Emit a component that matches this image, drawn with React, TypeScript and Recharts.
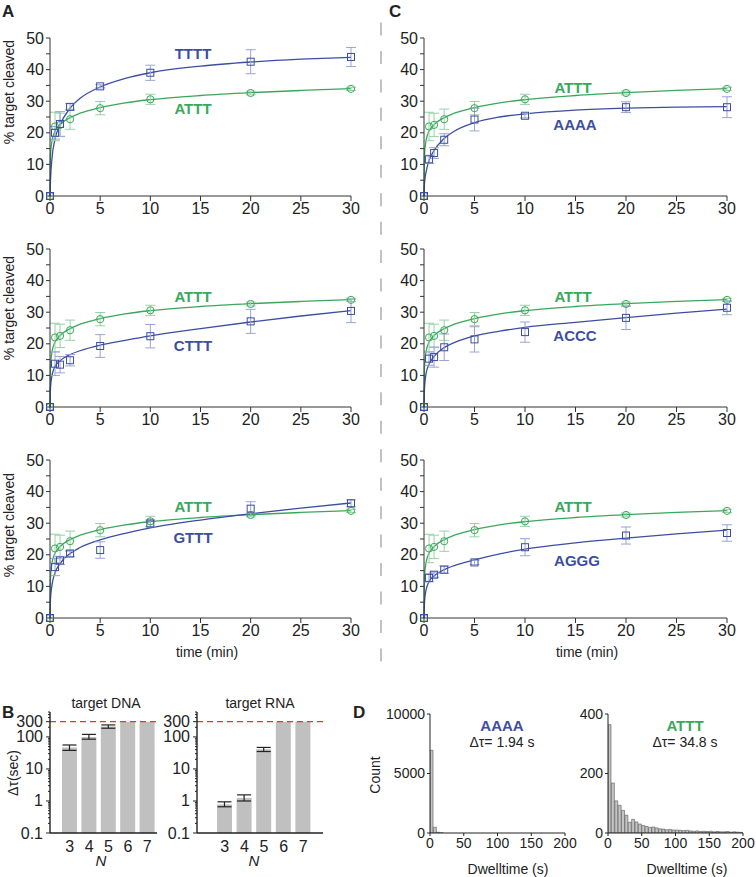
import React from 'react';
import {
  ComposedChart, BarChart, Bar, Line, Scatter, XAxis, YAxis, ErrorBar, ReferenceLine,
} from 'recharts';

// time course (min) and % target cleaved
const TIMES = [0, 0.5, 1, 2, 5, 10, 20, 30];
const FIT_T = [0, 0.05, 0.2, 0.5, 1, 2, 3, 5, 7.5, 10, 15, 20, 25, 30];

const ATTT = [0, 22, 22.5, 24.3, 27.8, 30.6, 32.6, 33.9];
const ATTT_ERR = [0, 4.5, 3.7, 3.2, 2.1, 1.6, 0.6, 0.5];
const ATTT_FIT = [0, 13, 17.5, 20.5, 22.6, 24.8, 26.2, 28, 29.5, 30.5, 31.8, 32.7, 33.4, 34];

const TTTT = [0, 20, 22.8, 28.2, 34.7, 39, 42.5, 44];
const TTTT_ERR = [0, 2, 3.9, 1, 0.5, 2.4, 3.8, 3];
const TTTT_FIT = [0, 5, 12, 18, 22.5, 27.8, 30.9, 34.5, 37.2, 39, 41.1, 42.4, 43.3, 43.9];

const CTTT = [0, 13.7, 13.4, 14.8, 19.3, 22.4, 27.1, 30.4];
const CTTT_ERR = [0, 3.7, 2.6, 1.8, 3.6, 3.7, 3.8, 3.7];
const CTTT_FIT = [0, 6, 10, 12.8, 14.6, 16.6, 17.8, 19.6, 21.1, 22.5, 24.8, 26.9, 28.8, 30.5];

const GTTT = [0, 16.1, 18.2, 20.4, 21.5, 29.9, 34.6, 36.3];
const GTTT_ERR = [0, 2.7, 1.3, 1, 2.6, 1.1, 2.2, 1.1];
const GTTT_FIT = [0, 6, 10.5, 14.3, 17.2, 20.4, 22.3, 24.7, 26.8, 28.5, 31, 33, 34.8, 36.4];

const AAAA = [0, 11.6, 13.6, 17.8, 24.2, 25.4, 28.1, 28.1];
const AAAA_ERR = [0, 1.3, 1.7, 1.9, 3.6, 0.7, 1.7, 3.3];
const AAAA_FIT = [0, 4, 7.5, 11.2, 14.4, 18.2, 20.5, 23.2, 25, 26, 27.2, 27.8, 28.1, 28.3];

const ACCC = [0, 15.3, 15.8, 18.9, 21.4, 23.7, 28.2, 31.4];
const ACCC_ERR = [0, 2.1, 3.2, 4.2, 4, 3.2, 3.7, 2.2];
const ACCC_FIT = [0, 6, 10.5, 13.5, 16, 18.8, 20.4, 22.5, 24, 25.2, 26.8, 28.3, 29.7, 31];

const AGGG = [0, 12.7, 13.7, 15.3, 17.6, 22.4, 26.1, 26.9];
const AGGG_ERR = [0, 1.3, 0.8, 1.2, 0.7, 2.7, 2.7, 2.6];
const AGGG_FIT = [0, 5, 8.8, 11.5, 13.3, 15.3, 16.6, 18.4, 20.3, 21.8, 23.8, 25.3, 26.6, 27.8];

const X_TICKS = [0, 5, 10, 15, 20, 25, 30];
const Y_TICKS = [0, 5, 10, 15, 20, 25, 30, 35, 40, 45, 50];

// panel B: dwell time vs N
const N_LABELS = ['3', '4', '5', '6', '7'];
const DNA_TAU = [47, 100, 210, 300, 300];
const DNA_ERR = [[9, 9], [15, 20], [23, 27], null, null];
const RNA_TAU = [0.78, 1.25, 41, 300, 300];
const RNA_ERR = [[0.12, 0.16], [0.25, 0.3], [6, 6], null, null];
const LIMIT = 300;
const LOG_TICKS = [
  0.1, 0.2, 0.3, 0.4, 0.5, 0.6, 0.7, 0.8, 0.9,
  1, 2, 3, 4, 5, 6, 7, 8, 9,
  10, 20, 30, 40, 50, 60, 70, 80, 90,
  100, 200, 300, 400, 500, 600,
];
const LOG_LABELS = [0.1, 1, 10, 100, 300];

// panel D: dwell time histograms (5 s bins)
const BIN_CENTERS = [
  2.5, 7.5, 12.5, 17.5, 22.5, 27.5, 32.5, 37.5, 42.5, 47.5,
  52.5, 57.5, 62.5, 67.5, 72.5, 77.5, 82.5, 87.5, 92.5, 97.5,
  102.5, 107.5, 112.5, 117.5, 122.5, 127.5, 132.5, 137.5, 142.5, 147.5,
  152.5, 157.5, 162.5, 167.5, 172.5, 177.5, 182.5, 187.5, 192.5, 197.5,
];
const AAAA_COUNTS = [
  6950, 480, 60, 15, 0, 0, 0, 0, 0, 0,
  0, 0, 0, 0, 0, 0, 0, 0, 0, 0,
  0, 0, 0, 0, 0, 0, 0, 0, 0, 0,
  0, 0, 0, 0, 0, 0, 0, 0, 0, 0,
];
const ATTT_COUNTS = [
  364, 168, 108, 93, 76, 60, 36, 46, 37, 30,
  25, 22, 19, 20, 17, 14, 13, 11, 12, 10,
  10, 9, 8, 9, 7, 6, 7, 5, 6, 5,
  6, 4, 5, 4, 4, 5, 3, 4, 3, 2,
];

const BLUE = '#3d4ea1';
const GREEN = '#3aa85a';
const BLUE_ERR = '#9aa3d6';
const GREEN_ERR = '#95d3a6';
const INK = '#222';

const Square = (p: any) => (
  <rect x={p.cx - 3.5} y={p.cy - 3.5} width={7} height={7} fill="none" stroke={BLUE} strokeWidth={1} />
);
const Circle = (p: any) => (
  <circle cx={p.cx} cy={p.cy} r={3.6} fill="none" stroke={GREEN} strokeWidth={1} />
);

function TimePanel({ left, top, width, vals, errs, fit }: any) {
  const attt = TIMES.map((t, i) => ({ t, v: ATTT[i], e: ATTT_ERR[i] }));
  const atttFit = FIT_T.map((t, i) => ({ t, v: ATTT_FIT[i] }));
  const blue = TIMES.map((t, i) => ({ t, v: vals[i], e: errs[i] }));
  const blueFit = FIT_T.map((t, i) => ({ t, v: fit[i] }));
  return (
    <div style={{ position: 'absolute', left, top }}>
      <ComposedChart width={width} height={230} margin={{ top: 38, right: 19, bottom: 4, left: 0 }}>
        <XAxis dataKey="t" type="number" domain={[0, 30]} ticks={X_TICKS} interval={0}
          tickSize={5} height={30} stroke="#333" tick={{ fontSize: 16, fill: INK }} />
        <YAxis dataKey="v" type="number" domain={[0, 50]} ticks={Y_TICKS} interval={0}
          tickFormatter={(v: number) => (v % 10 === 0 ? String(v) : '')}
          tickSize={4} width={50} stroke="#333" tick={{ fontSize: 16, fill: INK }} />
        <Line data={atttFit} dataKey="v" type="monotone" stroke={GREEN} strokeWidth={1.3} dot={false} isAnimationActive={false} />
        <Line data={blueFit} dataKey="v" type="monotone" stroke={BLUE} strokeWidth={1.3} dot={false} isAnimationActive={false} />
        <Scatter data={attt} dataKey="v" shape={Circle} isAnimationActive={false}>
          <ErrorBar dataKey="e" direction="y" width={5} stroke={GREEN_ERR} strokeWidth={1} />
        </Scatter>
        <Scatter data={blue} dataKey="v" shape={Square} isAnimationActive={false}>
          <ErrorBar dataKey="e" direction="y" width={5} stroke={BLUE_ERR} strokeWidth={1} />
        </Scatter>
      </ComposedChart>
    </div>
  );
}

const LogTick = (p: any) => {
  const v = p.payload.value;
  const major = LOG_LABELS.includes(v);
  const ax = p.x + 6;
  return (
    <g>
      <line x1={ax} x2={ax - (major ? 4 : 2)} y1={p.y} y2={p.y} stroke={INK} strokeWidth={1} />
      {major && (
        <text x={ax - 7} y={p.y} textAnchor="end" dominantBaseline="central" fontSize={16} fill={INK}>{v}</text>
      )}
    </g>
  );
};

function TauPanel({ left, width, tau, err, padLeft, padRight }: any) {
  const data = tau.map((v: number, i: number) => ({ n: N_LABELS[i], v, err: err[i] }));
  return (
    <div style={{ position: 'absolute', left, top: 690 }}>
      <BarChart width={width} height={170} data={data} margin={{ top: 22, right: 0, bottom: 3, left: 0 }}>
        <XAxis dataKey="n" tickLine={false} padding={{ left: padLeft, right: padRight }} height={24}
          stroke={INK} strokeWidth={1.4} tick={{ fontSize: 16, fill: INK }} />
        <YAxis scale="log" type="number" domain={[0.1, 600]} ticks={LOG_TICKS} interval={0} allowDataOverflow
          tickLine={false} tickSize={4} tickMargin={2} width={50} stroke={INK} strokeWidth={1.4} tick={LogTick} />
        <Bar dataKey="v" fill="#c0c0c0" barSize={15} isAnimationActive={false}>
          <ErrorBar dataKey="err" direction="y" width={7} stroke={INK} strokeWidth={1.2} />
        </Bar>
        <ReferenceLine y={LIMIT} stroke="#ff2a2a" strokeDasharray="6 4" strokeWidth={1.2} />
      </BarChart>
    </div>
  );
}

function HistPanel({ left, counts, yMax, yTicks }: any) {
  const data = BIN_CENTERS.map((x, i) => ({ x, n: counts[i] }));
  return (
    <div style={{ position: 'absolute', left, top: 690 }}>
      <BarChart width={198} height={170} data={data} barCategoryGap={0} barGap={0}
        margin={{ top: 24, right: 13, bottom: 3, left: 0 }}>
        <XAxis dataKey="x" type="number" domain={[0, 200]} ticks={[0, 50, 100, 150, 200]} interval={0}
          tickSize={3} height={24} stroke={INK} tick={{ fontSize: 14, fill: INK }} allowDataOverflow />
        <YAxis type="number" domain={[0, yMax]} ticks={yTicks} interval={0} tickSize={3} width={50}
          stroke={INK} tick={{ fontSize: 14, fill: INK }} allowDataOverflow />
        <Bar dataKey="n" fill="#c4c4c4" stroke="#555" strokeWidth={0.6} isAnimationActive={false} />
      </BarChart>
    </div>
  );
}

const seriesLabels = [
  { x: 193, y: 53, text: 'TTTT', c: BLUE },
  { x: 193, y: 108, text: 'ATTT', c: GREEN },
  { x: 193, y: 296, text: 'ATTT', c: GREEN },
  { x: 193, y: 345, text: 'CTTT', c: BLUE },
  { x: 193, y: 506, text: 'ATTT', c: GREEN },
  { x: 193, y: 537, text: 'GTTT', c: BLUE },
  { x: 573, y: 87, text: 'ATTT', c: GREEN },
  { x: 575, y: 124, text: 'AAAA', c: BLUE },
  { x: 573, y: 296, text: 'ATTT', c: GREEN },
  { x: 575, y: 335, text: 'ACCC', c: BLUE },
  { x: 573, y: 506, text: 'ATTT', c: GREEN },
  { x: 577, y: 560, text: 'AGGG', c: BLUE },
];

export default function App() {
  return (
    <div style={{
      position: 'absolute', left: 0, top: 0, width: 756, height: 877, overflow: 'hidden',
      background: '#fff', fontFamily: 'Arial, "Liberation Sans", sans-serif',
    }}>
      <TimePanel left={0} top={0} width={370} vals={TTTT} errs={TTTT_ERR} fit={TTTT_FIT} />
      <TimePanel left={0} top={211} width={370} vals={CTTT} errs={CTTT_ERR} fit={CTTT_FIT} />
      <TimePanel left={0} top={422} width={370} vals={GTTT} errs={GTTT_ERR} fit={GTTT_FIT} />
      <TimePanel left={374} top={0} width={372} vals={AAAA} errs={AAAA_ERR} fit={AAAA_FIT} />
      <TimePanel left={374} top={211} width={372} vals={ACCC} errs={ACCC_ERR} fit={ACCC_FIT} />
      <TimePanel left={374} top={422} width={372} vals={AGGG} errs={AGGG_ERR} fit={AGGG_FIT} />

      <TauPanel left={0} width={157} tau={DNA_TAU} err={DNA_ERR} padLeft={10} padRight={0} />
      <TauPanel left={147} width={176} tau={RNA_TAU} err={RNA_ERR} padLeft={18} padRight={10} />

      <HistPanel left={380} counts={AAAA_COUNTS} yMax={10000} yTicks={[0, 5000, 10000]} />
      <HistPanel left={558} counts={ATTT_COUNTS} yMax={400} yTicks={[0, 200, 400]} />

      <svg width={756} height={877} style={{ position: 'absolute', left: 0, top: 0, pointerEvents: 'none' }}
        fontFamily='Arial, "Liberation Sans", sans-serif' fill={INK}>
        <text x={2} y={17} fontSize={17} fontWeight="bold">A</text>
        <text x={389} y={17} fontSize={17} fontWeight="bold">C</text>
        <text x={2} y={718} fontSize={17} fontWeight="bold">B</text>
        <text x={353} y={718} fontSize={17} fontWeight="bold">D</text>

        <line x1={381} y1={22.5} x2={381} y2={662} stroke="#999" strokeWidth={1.2} strokeDasharray="13 15.45" />

        {[92, 308, 525].map((cy) => (
          <text key={cy} x={9} y={cy} fontSize={14} textAnchor="middle" dominantBaseline="central"
            transform={`rotate(-90 9 ${cy})`}>% target cleaved</text>
        ))}
        <text x={207} y={652} fontSize={14} textAnchor="middle" dominantBaseline="central">time (min)</text>
        <text x={587} y={652} fontSize={14} textAnchor="middle" dominantBaseline="central">time (min)</text>

        {seriesLabels.map((l, i) => (
          <text key={i} x={l.x} y={l.y} fontSize={15} fontWeight="bold" fill={l.c}
            textAnchor="middle" dominantBaseline="central">{l.text}</text>
        ))}

        <text x={106} y={703} fontSize={14} textAnchor="middle" dominantBaseline="central">target DNA</text>
        <text x={260} y={703} fontSize={14} textAnchor="middle" dominantBaseline="central">target RNA</text>
        <text x={13} y={773} fontSize={14} textAnchor="middle" dominantBaseline="central"
          transform="rotate(-90 13 773)">Δτ(sec)</text>
        <text x={101} y={860} fontSize={15} fontStyle="italic" textAnchor="middle" dominantBaseline="central">N</text>
        <text x={254} y={860} fontSize={15} fontStyle="italic" textAnchor="middle" dominantBaseline="central">N</text>

        <text x={375} y={775} fontSize={14} textAnchor="middle" dominantBaseline="central"
          transform="rotate(-90 375 775)">Count</text>
        <text x={508} y={869} fontSize={14} textAnchor="middle" dominantBaseline="central">Dwelltime (s)</text>
        <text x={687} y={869} fontSize={14} textAnchor="middle" dominantBaseline="central">Dwelltime (s)</text>
        <text x={502} y={725} fontSize={15} fontWeight="bold" fill={BLUE} textAnchor="middle" dominantBaseline="central">AAAA</text>
        <text x={502} y={742} fontSize={14} textAnchor="middle" dominantBaseline="central">Δτ= 1.94 s</text>
        <text x={685} y={725} fontSize={15} fontWeight="bold" fill={GREEN} textAnchor="middle" dominantBaseline="central">ATTT</text>
        <text x={685} y={742} fontSize={14} textAnchor="middle" dominantBaseline="central">Δτ= 34.8 s</text>
      </svg>
    </div>
  );
}
